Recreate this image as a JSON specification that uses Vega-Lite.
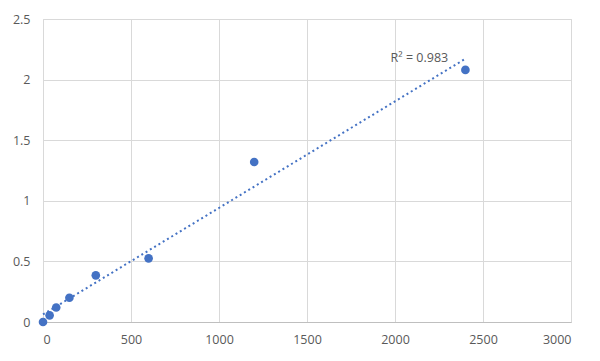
{
  "$schema": "https://vega.github.io/schema/vega-lite/v6.json",
  "autosize": {"type": "none"},
  "width": 528,
  "height": 303,
  "padding": {"left": 43, "top": 19, "right": 29, "bottom": 39},
  "background": "white",
  "config": {
    "view": {"stroke": "#d9d9d9", "strokeWidth": 1},
    "font": "Open Sans",
    "axis": {
      "labelFont": "Open Sans",
      "labelFontSize": 12.5,
      "labelColor": "#595959",
      "gridColor": "#d9d9d9",
      "gridWidth": 1,
      "ticks": false,
      "title": null,
      "domainColor": "#bfbfbf"
    }
  },
  "datasets": {
    "pts": [
      {"conc": 0, "od": 0},
      {"conc": 37.5, "od": 0.055},
      {"conc": 75, "od": 0.12},
      {"conc": 150, "od": 0.2},
      {"conc": 300, "od": 0.385},
      {"conc": 600, "od": 0.525},
      {"conc": 1200, "od": 1.32},
      {"conc": 2400, "od": 2.08}
    ],
    "ann": [{"label": "R² = 0.983", "conc": 2400, "od": 2.172}]
  },
  "layer": [
    {
      "data": {"name": "pts"},
      "transform": [{"regression": "od", "on": "conc", "extent": [0, 2400]}],
      "mark": {"type": "line", "color": "#4472C4", "strokeWidth": 2, "strokeDash": [2, 3]},
      "encoding": {
        "x": {"field": "conc", "type": "quantitative", "scale": {"domain": [0, 3000], "nice": false},
              "axis": {"values": [0, 500, 1000, 1500, 2000, 2500, 3000], "format": "d", "labelPadding": 11, "domain": true, "grid": true}},
        "y": {"field": "od", "type": "quantitative", "scale": {"domain": [0, 2.5], "nice": false},
              "axis": {"values": [0, 0.5, 1, 1.5, 2, 2.5], "format": "~g", "labelPadding": 13, "domain": false, "grid": true}}
      }
    },
    {
      "data": {"name": "pts"},
      "mark": {"type": "point", "filled": true, "color": "#4472C4", "opacity": 1, "size": 75},
      "encoding": {
        "x": {"field": "conc", "type": "quantitative"},
        "y": {"field": "od", "type": "quantitative"}
      }
    },
    {
      "data": {"name": "ann"},
      "mark": {"type": "text", "font": "Open Sans", "fontSize": 12.5, "color": "#595959", "dx": -46, "dy": -1},
      "encoding": {
        "x": {"field": "conc", "type": "quantitative"},
        "y": {"field": "od", "type": "quantitative"},
        "text": {"field": "label"}
      }
    }
  ]
}
